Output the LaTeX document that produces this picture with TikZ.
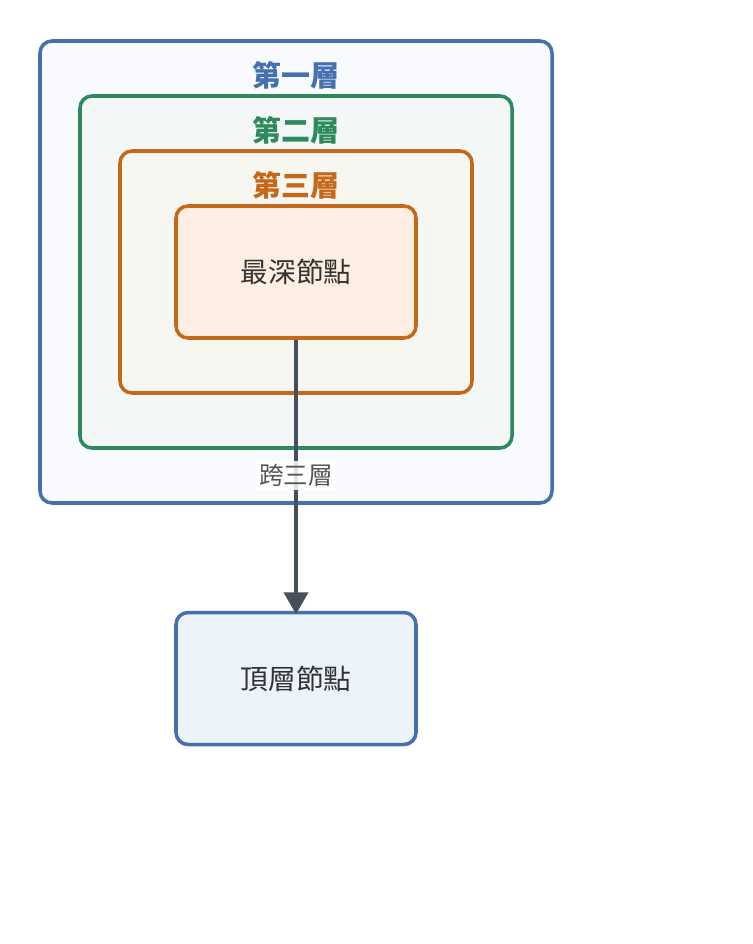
\documentclass[tikz,border=0pt]{standalone}
\usepackage{fontspec}
\usepackage{xcolor}
\usepackage{tikz}
\setmainfont{Noto Sans CJK TC}
\definecolor{layerblue}{HTML}{4470B0}
\definecolor{layergreen}{HTML}{2E8A5C}
\definecolor{layerorange}{HTML}{C4681A}
\definecolor{fillone}{HTML}{F8FAFE}
\definecolor{filltwo}{HTML}{F3F8F7}
\definecolor{fillthree}{HTML}{F6F7F1}
\definecolor{filldeep}{HTML}{FCEFE1}
\definecolor{filltop}{HTML}{ECF3FB}
\definecolor{arrowgray}{HTML}{46505A}
\definecolor{textgray}{HTML}{333333}
\definecolor{labelgray}{HTML}{555555}
\usetikzlibrary{positioning, arrows.meta}

\tikzset{
	layerbox/.style={draw, rounded corners=0.24cm, line width=2pt},
	nodebox/.style={layerbox, minimum width=4.8cm, minimum height=2.64cm, text=textgray, font=\fontsize{15.8}{18}\selectfont},
	layertitle/.style={font=\fontsize{16.5}{19}\selectfont\bfseries, inner sep=0pt},
	link/.style={draw=arrowgray, line width=2.3pt, -{Triangle[width=0.48cm, length=0.44cm]}, shorten >=-2pt},
	edgelabel/.style={fill=white, fill opacity=0.85, text opacity=1, text=labelgray, font=\fontsize{14}{16}\selectfont, inner sep=2pt}
}

\begin{document}
\begin{tikzpicture}
	\useasboundingbox (0,0) rectangle (15.04,-18.88);
	
	\node[layerbox, draw=layerblue, fill=fillone, minimum width=10.24cm, minimum height=9.24cm] (layer1) at (5.92,-5.44) {};
	
	\node[layerbox, draw=layergreen, fill=filltwo, minimum width=8.64cm, minimum height=7.04cm] (layer2) at (layer1.center) {};
	
	\node[layerbox, draw=layerorange, fill=fillthree, minimum width=7.04cm, minimum height=4.84cm] (layer3) at (layer1.center) {};
	
	\node[layertitle, text=layerblue] (title1) at ([yshift=-0.73cm]layer1.north) {第一層};
	
	\node[layertitle, text=layergreen] (title2) at ([yshift=-0.73cm]layer2.north) {第二層};
	
	\node[layertitle, text=layerorange] (title3) at ([yshift=-0.73cm]layer3.north) {第三層};
	
	\node[nodebox, draw=layerorange, fill=filldeep] (deep) at (layer1.center) {最深節點};
	
	\node[nodebox, draw=layerblue, fill=filltop, below=5.42cm of deep] (top) {頂層節點};
	
	\draw[link] (deep) -- node[midway, edgelabel] (span) {跨三層} (top);
\end{tikzpicture}
\end{document}
